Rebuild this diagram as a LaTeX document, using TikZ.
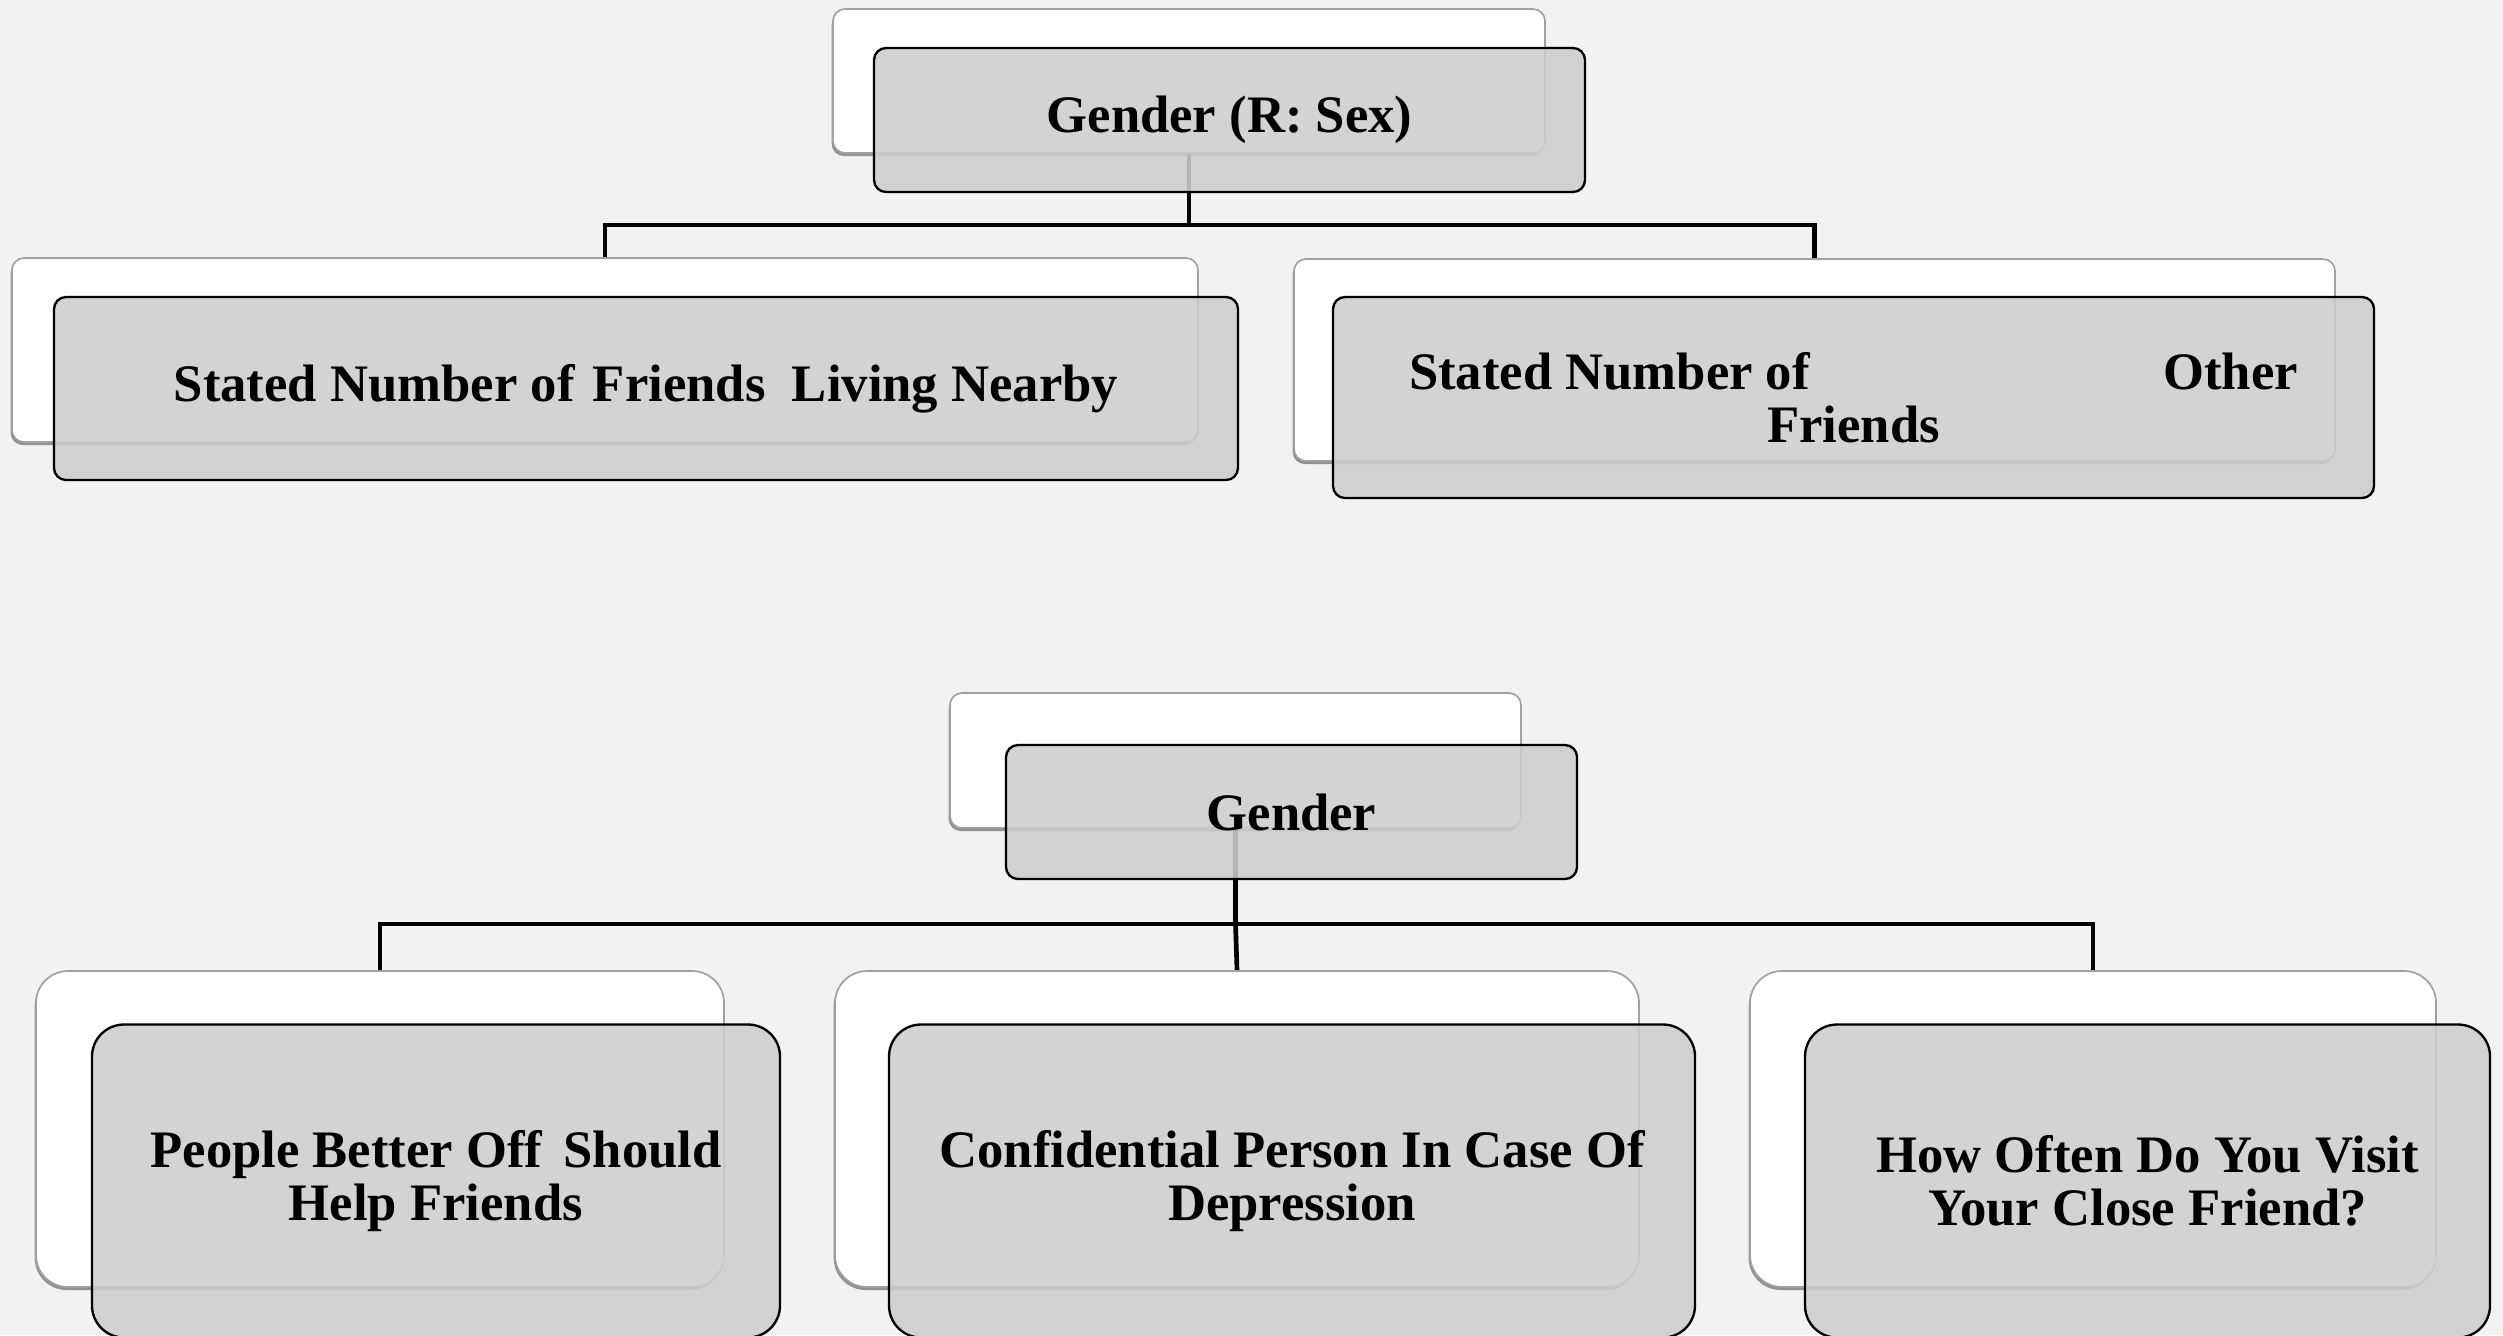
\documentclass[tikz,border=0pt]{standalone}
\usepackage{fontspec}
\setmainfont{Liberation Serif}
\usetikzlibrary{shadows}
\definecolor{bgc}{HTML}{F2F2F2}
\definecolor{boxgray}{HTML}{CDCDCD}
\definecolor{backedge}{HTML}{A0A0A0}
\pgfdeclarelayer{bgfill}
\pgfdeclarelayer{links}
\pgfsetlayers{bgfill,links,main}
\begin{document}
\begin{tikzpicture}[x=0.3pt,y=-0.3pt,
  backbox/.style={draw=backedge, line width=0.5pt, fill=white, rounded corners=#1, inner sep=0pt,
    drop shadow={shadow xshift=-0.4pt, shadow yshift=-0.9pt, opacity=0.4, fill=black}},
  frontbox/.style={draw=black, line width=0.7pt, fill=boxgray, fill opacity=0.88, text opacity=1,
    rounded corners=#1, inner sep=0pt, align=center,
    font=\fontsize{15.8}{15.9}\selectfont\bfseries},
  link/.style={line width=1.4pt, draw=black}]
\begin{pgfonlayer}{bgfill}
\fill[bgc] (0,0) rectangle (2503,1335);
\end{pgfonlayer}
\useasboundingbox (0,0) rectangle (2503,1335);
\clip (0,0) rectangle (2503,1335);

% ---- top group ----
\node[backbox=3.6pt, minimum width=213.6pt, minimum height=43.2pt] (g1w) at (1189,81) {};
\node[backbox=3.6pt, minimum width=355.8pt, minimum height=55.2pt] (c1w) at (605,350) {};
\node[backbox=3.6pt, minimum width=312.3pt, minimum height=60.6pt] (c2w) at (1814.5,360) {};

\node[frontbox=3.6pt, minimum width=213.3pt, minimum height=43.2pt] (g1) at (1229.5,120) {Gender (R: Sex)};
\node[frontbox=3.6pt, minimum width=355.2pt, minimum height=54.9pt] (c1) at (646,388.5)
  {Stated Number of\hspace{0.1em} Friends\hspace{0.25em} Living Nearby};
\node[frontbox=3.6pt, minimum width=312.3pt, minimum height=60.3pt] (c2) at (1853.5,397.5)
  {\makebox[266.7pt]{Stated Number of\hfill Other}\\Friends};

% ---- bottom group ----
\node[backbox=3.6pt, minimum width=171.3pt, minimum height=40.5pt] (g2w) at (1235.5,760.5) {};
\node[backbox=9.6pt, minimum width=206.4pt, minimum height=94.8pt] (d1w) at (380,1129) {};
\node[backbox=9.6pt, minimum width=241.2pt, minimum height=94.8pt] (d2w) at (1237,1129) {};
\node[backbox=9.6pt, minimum width=205.8pt, minimum height=94.8pt] (d3w) at (2093,1129) {};

\node[frontbox=3.6pt, minimum width=171.3pt, minimum height=40.2pt] (g2) at (1291.5,812) {Gender};
\node[frontbox=9.6pt, minimum width=206.4pt, minimum height=93.9pt] (d1) at (436,1181)
  {People Better Off\hspace{0.15em} Should\\Help Friends};
\node[frontbox=9.6pt, minimum width=241.8pt, minimum height=93.9pt] (d2) at (1292,1181)
  {Confidential Person In Case Of\\Depression};
\node[frontbox=9.6pt, minimum width=205.5pt, minimum height=93.9pt] (d3) at (2147.5,1181)
  {How Often Do You Visit\\Your Close Friend?};

% ---- connectors ----
\coordinate (bus1) at (0,225);
\coordinate (bus2) at (0,924);
\begin{pgfonlayer}{links}
\draw[link] (g1w.south) -- (g1w.south |- bus1);
\draw[link] (c1w.north) -- (c1w.north |- bus1) -- (c2w.north |- bus1) -- (c2w.north);
\draw[link] (g2w.south) -- (g2w.south |- bus2) -- (d2w.north);
\draw[link] (d1w.north) -- (d1w.north |- bus2) -- (d3w.north |- bus2) -- (d3w.north);
\end{pgfonlayer}
\end{tikzpicture}
\end{document}
